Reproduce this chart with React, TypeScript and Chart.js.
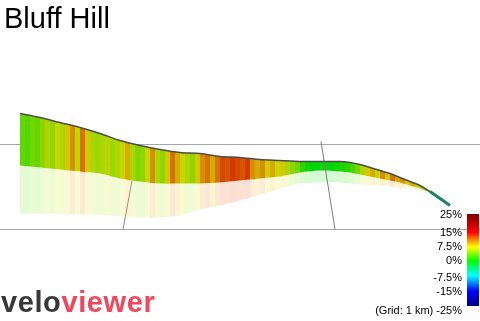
import React, { useEffect, useRef } from "react";
import { Chart, registerables } from "chart.js";
Chart.register(...registerables);

// Profile positions (horizontal position along the 3D ribbon)
const profileX = [20, 40, 60, 80, 100, 120, 140, 160, 180, 200, 220, 240, 260, 280, 300, 320, 340, 350, 360, 370, 380, 390, 400, 410, 420, 430];
// Projected heights of the ribbon's top edge, front edge and side bottom edge
const surfaceTop = [116, 112, 107, 102, 96, 89, 84, 80, 77, 76, 73, 72, 70, 69, 68, 68, 68, 67, 65, 62, 59, 56, 52, 48, 44, 38];
const surfaceBottom = [64, 62, 60, 58, 56, 51, 48, 46, 46, 46, 47, 49, 51, 53, 57, 59, 58, 57, 55, 53, 51, 49, 47, 44, 41, 37];
const sideBottom = [16, 16, 16, 15, 15, 13, 12, 12, 14, 20, 24, 29, 35, 41, 46, 47, 47, 46, 45, 44, 44, 43, 42, 41, 40, 37];
// Steep descent tail
const tailX = [430, 440, 450];
const tailTop = [38, 31, 24];
const tailColor = "#1e7f70";

// Gradient (%) stripes along the ribbon
const stripeStart = 20;
const stripeStep = 5;
const grades = [
  3.5, 3, 4, 3.5, 5, 6, 5, 7, 6, 8, 10, 7, 11, 8, 6, 5.5, 6, 6.5, 5.5, 6,
  7, 9, 6, 4.5, 5, 7, 10, 6, 5, 8, 11, 9, 7, 6, 5, 8, 10, 11, 9, 11,
  12.5, 12, 13, 12.5, 12, 13, 10, 9, 10, 8, 9, 7, 8, 6, 5, 4, 1.5, 0.5, 0, -0.3,
  0.5, -0.5, 0, 0.5, 1, 1.5, 2.5, 4, 6, 8, 9, 7, 10, 8, 11, 9, 10, 8, 9, 7,
  6, 4,
];

// Grid
const gridLevels = [85, 0];
const gridSpan = [0, 480];
const kmLine1X = [132, 123];
const kmLine1Y = [49, 0];
const kmLine2X = [321, 335];
const kmLine2Y = [88, 0];

// Colour legend
const legendLabels = ["25%", "15%", "7.5%", "0%", "-7.5%", "-15%", "(Grid: 1 km) -25%"];
const legendCenters = [213.5, 232, 246, 260, 276.5, 291, 309.5];

const colorStops: [number, number[]][] = [
  [25, [128, 0, 0]],
  [15, [255, 0, 0]],
  [7.5, [255, 255, 0]],
  [0, [0, 255, 0]],
  [-7.5, [0, 255, 255]],
  [-15, [0, 0, 255]],
  [-25, [0, 0, 128]],
];

function gradeRGB(g: number): number[] {
  if (g >= colorStops[0][0]) return colorStops[0][1];
  for (let i = 0; i < colorStops.length - 1; i++) {
    const [g0, c0] = colorStops[i];
    const [g1, c1] = colorStops[i + 1];
    if (g <= g0 && g >= g1) {
      const t = (g0 - g) / (g0 - g1);
      return c0.map((v, k) => Math.round(v + (c1[k] - v) * t));
    }
  }
  return colorStops[colorStops.length - 1][1];
}

function stripeGradient(chart: any, shade: number, alpha: number) {
  const { ctx, chartArea, scales } = chart;
  if (!chartArea || !scales.x) return "rgba(150,200,0,0.8)";
  const n = grades.length;
  const x0 = scales.x.getPixelForValue(stripeStart);
  const x1 = scales.x.getPixelForValue(stripeStart + n * stripeStep);
  const g = ctx.createLinearGradient(x0, 0, x1, 0);
  for (let i = 0; i < n; i++) {
    const c = gradeRGB(grades[i]).map((v) => Math.round(v * shade));
    const col = `rgba(${c[0]},${c[1]},${c[2]},${alpha})`;
    g.addColorStop(i / n, col);
    g.addColorStop((i + 1) / n, col);
  }
  return g;
}

const pts = (xs: number[], ys: number[]) => xs.map((x, i) => ({ x, y: ys[i] }));

export default function App() {
  const ref = useRef<HTMLCanvasElement>(null);
  useEffect(() => {
    if (!ref.current) return;
    const line = (data: any, extra: any) => ({
      data,
      pointRadius: 0,
      borderWidth: 0,
      fill: false,
      tension: 0.3,
      ...extra,
    });
    const chart = new Chart(ref.current, {
      type: "line",
      data: {
        datasets: [
          line(pts(profileX, surfaceTop), { borderColor: "#4d4d4d", borderWidth: 1.5, order: 1 }),
          line(pts(profileX, surfaceBottom), {
            borderColor: "rgba(0,0,0,0)",
            fill: 0,
            backgroundColor: (c: any) => stripeGradient(c.chart, 0.84, 1),
            order: 4,
          }),
          line(pts(profileX, sideBottom), {
            borderColor: "rgba(0,0,0,0)",
            fill: 1,
            backgroundColor: (c: any) => stripeGradient(c.chart, 0.9, 0.17),
            order: 5,
          }),
          line(pts(tailX, tailTop), { borderColor: tailColor, borderWidth: 3, tension: 0, order: 0 }),
          line(pts(gridSpan, [gridLevels[0], gridLevels[0]]), { borderColor: "#a6a6a6", borderWidth: 1, tension: 0, order: 10 }),
          line(pts(gridSpan, [gridLevels[1], gridLevels[1]]), { borderColor: "#a6a6a6", borderWidth: 1, tension: 0, order: 10 }),
          line(pts(kmLine1X, kmLine1Y), { borderColor: "#8c8c8c", borderWidth: 1, tension: 0, order: 10 }),
          line(pts(kmLine2X, kmLine2Y), { borderColor: "#7d7d7d", borderWidth: 1, tension: 0, order: 2 }),
        ],
      },
      options: {
        animation: false,
        responsive: false,
        devicePixelRatio: 1,
        layout: { padding: 0 },
        plugins: { legend: { display: false }, tooltip: { enabled: false }, title: { display: false } },
        scales: {
          x: { type: "linear", min: 0, max: 480, display: false },
          y: { type: "linear", min: -91.5, max: 229.5, display: false },
        },
      },
    });
    return () => chart.destroy();
  }, []);

  const labelFont = "'Liberation Sans', Arial, sans-serif";
  return (
    <div style={{ position: "fixed", left: 0, top: 0, width: 480, height: 321, background: "#fff", overflow: "hidden" }}>
      <canvas ref={ref} width={480} height={321} style={{ position: "absolute", left: 0, top: 0, width: 480, height: 321 }} />
      <div style={{ position: "absolute", left: 4, top: 3.5, fontFamily: labelFont, fontSize: 29, lineHeight: "29px", color: "#000", whiteSpace: "nowrap" }}>
        Bluff Hill
      </div>
      {legendLabels.map((t, i) => (
        <div
          key={t}
          style={{
            position: "absolute",
            right: 18,
            top: legendCenters[i] - 6,
            fontFamily: labelFont,
            fontSize: 11,
            lineHeight: "12px",
            color: "#000",
            whiteSpace: "pre",
            textAlign: "right",
          }}
        >
          {t}
        </div>
      ))}
      <div
        style={{
          position: "absolute",
          left: 467,
          top: 214,
          width: 12,
          height: 92,
          background:
            "linear-gradient(to bottom, #800000 0%, #ff0000 20%, #ff8800 28%, #ffff00 36%, #00ff00 51%, #00ffff 67%, #0000ff 84%, #000080 100%)",
        }}
      />
      <div
        style={{
          position: "absolute",
          left: 1,
          top: 287.5,
          fontFamily: labelFont,
          fontWeight: "bold",
          fontSize: 29,
          lineHeight: "29px",
          letterSpacing: 0.6,
          whiteSpace: "nowrap",
        }}
      >
        <span style={{ color: "#383838" }}>velo</span>
        <span style={{ color: "#f0475c" }}>viewer</span>
      </div>
    </div>
  );
}
